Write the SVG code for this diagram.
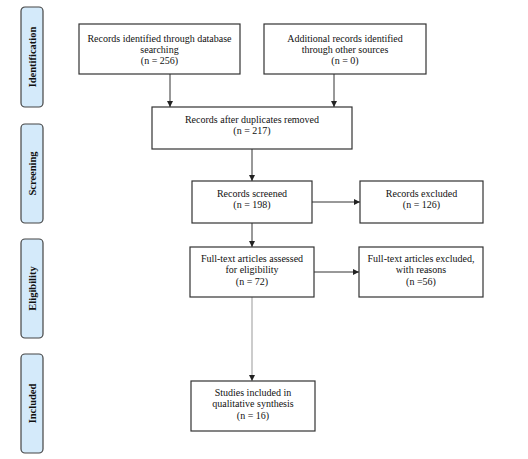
<svg xmlns="http://www.w3.org/2000/svg" width="528" height="459" viewBox="0 0 528 459">
<style>
.box{fill:#fff;stroke:#333;stroke-width:1.2}
.lab{fill:#d4eafa;stroke:#444;stroke-width:1.2}
.t{font-family:"Liberation Serif","Times New Roman",serif;font-size:10px;fill:#111;text-anchor:middle}
.lt{font-family:"Liberation Serif","Times New Roman",serif;font-size:10.5px;font-weight:bold;fill:#111;text-anchor:middle}
.c{stroke:#333;stroke-width:1;fill:none;marker-end:url(#ah)}
</style>
<defs>
<marker id="ah" viewBox="0 0 10 10" refX="10" refY="5" markerWidth="6" markerHeight="6" markerUnits="userSpaceOnUse" orient="auto">
<path d="M0,0 L10,5 L0,10 z" fill="#222"/>
</marker>
</defs>
<rect width="528" height="459" fill="#fff"/>
<g id="stage-identification"><rect class="lab" x="21" y="7" width="22" height="100" rx="4"/><text class="lt" transform="translate(35.5,57) rotate(-90)">Identification</text></g>
<g id="stage-screening"><rect class="lab" x="21" y="124" width="22" height="99" rx="4"/><text class="lt" transform="translate(35.5,173.5) rotate(-90)">Screening</text></g>
<g id="stage-eligibility"><rect class="lab" x="21" y="239" width="22" height="99" rx="4"/><text class="lt" transform="translate(35.5,288.5) rotate(-90)">Eligibility</text></g>
<g id="stage-included"><rect class="lab" x="21" y="354" width="22" height="99" rx="4"/><text class="lt" transform="translate(35.5,403.5) rotate(-90)">Included</text></g>
<g id="connectors">
<line class="c" x1="170" y1="74" x2="170" y2="107"/>
<line class="c" x1="334" y1="74" x2="334" y2="107"/>
<line class="c" x1="252" y1="149" x2="252" y2="181"/>
<line class="c" x1="312" y1="202" x2="360" y2="202"/>
<line class="c" x1="252" y1="223" x2="252" y2="247"/>
<line class="c" x1="314" y1="272" x2="359" y2="272"/>
<line class="c" x1="252" y1="297" x2="252" y2="381" style="stroke:#999"/>
</g>
<g id="n-db"><rect class="box" x="79" y="24" width="161" height="50"/><text class="t" x="159.5" y="42">Records identified through database</text><text class="t" x="159.5" y="53">searching</text><text class="t" x="159.5" y="64">(n = 256)</text></g>
<g id="n-other"><rect class="box" x="264" y="24" width="162" height="50"/><text class="t" x="345" y="42">Additional records identified</text><text class="t" x="345" y="53">through other sources</text><text class="t" x="345" y="64">(n = 0)</text></g>
<g id="n-dup"><rect class="box" x="152" y="107" width="200" height="42"/><text class="t" x="252" y="123">Records after duplicates removed</text><text class="t" x="252" y="134">(n = 217)</text></g>
<g id="n-screened"><rect class="box" x="192" y="181" width="120" height="42"/><text class="t" x="252" y="197">Records screened</text><text class="t" x="252" y="208">(n = 198)</text></g>
<g id="n-excluded"><rect class="box" x="360" y="181" width="123" height="42"/><text class="t" x="421.5" y="197">Records excluded</text><text class="t" x="421.5" y="208">(n = 126)</text></g>
<g id="n-fulltext"><rect class="box" x="190" y="247" width="124" height="50"/><text class="t" x="252" y="262">Full-text articles assessed</text><text class="t" x="252" y="273">for eligibility</text><text class="t" x="252" y="285">(n = 72)</text></g>
<g id="n-ftexcluded"><rect class="box" x="359" y="247" width="124" height="50"/><text class="t" x="421" y="262">Full-text articles excluded,</text><text class="t" x="421" y="273">with reasons</text><text class="t" x="421" y="285">(n =56)</text></g>
<g id="n-included"><rect class="box" x="191" y="381" width="124" height="50"/><text class="t" x="253" y="396">Studies included in</text><text class="t" x="253" y="407">qualitative synthesis</text><text class="t" x="253" y="419">(n = 16)</text></g>
</svg>
